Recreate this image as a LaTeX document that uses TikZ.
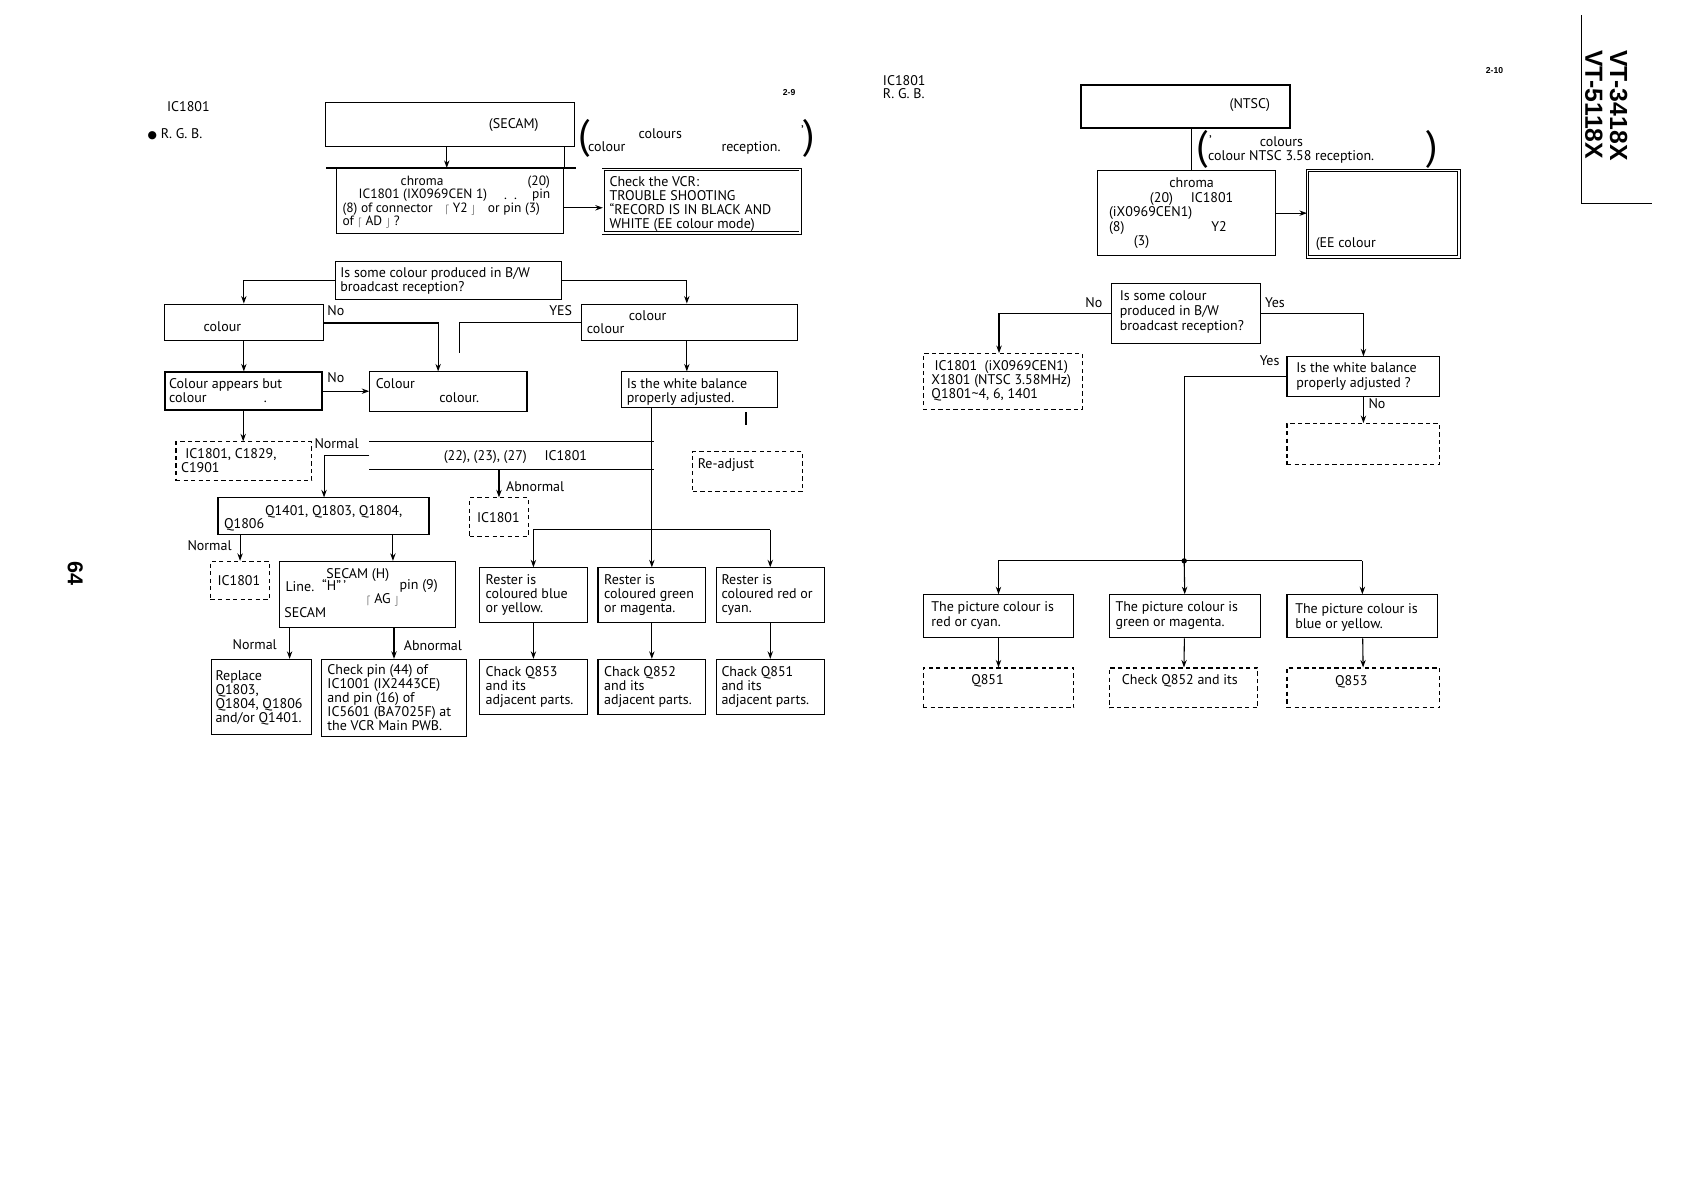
\documentclass[tikz,border=0pt]{standalone}
\usepackage{fontspec}
\setmainfont{PT Sans}
\newfontfamily\headfont{Liberation Sans}
\newfontfamily\symfont{DejaVu Sans}
\usetikzlibrary{arrows.meta}

\begin{document}
\begin{tikzpicture}[x=1pt, y=-1pt,
  box/.style={draw, line width=1pt, inner sep=0pt, anchor=north west},
  dbox/.style={box, dash pattern=on 4pt off 3pt},
  heavybox/.style={box, line width=1.8pt},
  dblbox/.style={box, line width=0.9pt, double distance=1.6pt},
  txt/.style={inner sep=0pt, anchor=mid west, yshift=-2pt, font=\fontsize{13}{13}\selectfont},
  small/.style={txt, font=\fontsize{12.5}{12.5}\selectfont},
  para/.style={inner sep=0pt, anchor=north west, yshift=-1.5pt, align=left, font=\fontsize{13}{13}\selectfont},
  paren/.style={inner sep=0pt, font=\fontsize{38}{38}\selectfont},
  pg/.style={inner sep=0pt, anchor=mid west, font=\headfont\bfseries\fontsize{8}{8}\selectfont},
  arr/.style={line width=1pt, -{Stealth[length=7pt, width=5pt]}},
  line/.style={line width=1pt}
]
\useasboundingbox (0,0) rectangle (1568,1109);

% Page marks
\node[inner sep=0pt, rotate=-90, font=\headfont\bfseries\fontsize{20}{20}\selectfont] (pageno) at (70,533) {64};
\node[inner sep=0pt, rotate=-90, align=left, font=\headfont\bfseries\fontsize{23}{23}\selectfont] (model) at (1492,98) {VT-3418X\\VT-5118X};
\coordinate (mtop) at (1469,14);
\coordinate (mcorner) at (1469,189);
\coordinate (mend) at (1535,189);
\draw[line width=1.3pt] (mtop) -- (mcorner) -- (mend);

%%%%%%%%%%%%%%%% Left page (SECAM)
\node[txt] (lic) at (155,99) {IC1801};
\node[txt] (lrgb) at (137,124) {{\symfont\fontsize{10}{10}\selectfont ●}\ R. G. B.};
\node[pg] (lpage) at (727,86) {2-9};

% Start
\node[box, minimum width=231, minimum height=41] (secam) at (302,95) {};
\node[txt] at (454,115) {(SECAM)};
\node[paren] (lpl) at (543,129) {(};
\node[paren] (lpr) at (752,129) {)};
\node[txt] at (593,124) {colours};
\node[txt] at (744,121) {'};
\node[txt] at (546,136) {colour};
\node[txt] at (670,136) {reception.};

% Chroma check
\node[box, minimum width=211, minimum height=60] (chroma) at (312,156) {};
\draw[line width=2.2pt] ([xshift=-9]chroma.north west) -- ([xshift=11]chroma.north east);
\node[small] at (372,168) {chroma};
\node[small] at (490,168) {(20)};
\node[small] at (333,180) {IC1801 (IX0969CEN 1)};
\node[small] at (468,181) {.\ \ .};
\node[small] at (494,180) {pin};
\node[small] at (318,193) {(8) of connector};
\node[small] at (413,193) {{\small$\lceil$} Y2 {\small$\rfloor$}};
\node[small] at (453,193) {or pin (3)};
\node[small] at (318,205) {of {\small$\lceil$} AD {\small$\rfloor$} ?};
\node[dblbox, minimum width=183, minimum height=59] (vcr) at (560,157) {};
\node[para] at (566,162) {Check the VCR:\\TROUBLE SHOOTING\\``RECORD IS IN BLACK AND\\WHITE (EE colour mode)};

\draw[arr] (415,0 |- secam.south) -- (415,0 |- chroma.north);
\draw[line] (chroma.north east) -- (chroma.north east |- secam.south);
\draw[arr] (chroma.east |- 0,193) -- (vcr.west |- 0,193);

% B/W question
\node[box, minimum width=210, minimum height=36] (bwq) at (311,242) {};
\node[para] at (316,247) {Is some colour produced in B/W\\broadcast reception?};
\node[box, minimum width=148, minimum height=34] (nocol) at (152,282) {};
\node[txt] at (189,303) {colour};
\node[box, minimum width=200, minimum height=34] (yescol) at (540,282) {};
\node[txt] at (584,293) {colour};
\node[txt] at (545,305) {colour};
\node[txt] at (304,289) {No};
\node[txt] at (510,289) {YES};

\draw[arr] (bwq.west) -| (nocol.north);
\draw[arr] (bwq.east) -| (638,0 |- yescol.north);

% Second level
\node[heavybox, minimum width=146, minimum height=35] (appears) at (152,345) {};
\node[para] at (157,350) {Colour appears but\\colour};
\node[txt] at (245,369) {.};
\node[box, minimum width=146, minimum height=37] (faint) at (343,345) {};
\node[txt] at (349,356) {Colour};
\node[txt] at (408,369) {colour.};
\node[box, minimum width=145, minimum height=33] (wbal) at (577,345) {};
\node[para] at (582,350) {Is the white balance\\properly adjusted.};
\node[txt] at (304,351) {No};
\coordinate (ystub) at (427,328);
\coordinate (wbno) at (693,395);

\draw[arr] (nocol.south) -- (nocol.south |- appears.north);
\draw[arr] (nocol.east |- 0,300) -| (407,0 |- faint.north);
\draw[line] (yescol.west) -| (ystub);
\draw[arr] (638,0 |- yescol.south) -- (638,0 |- wbal.north);
\draw[arr] (appears.east) -- (appears.east -| faint.west);
\draw[line width=2pt] (wbno |- 0,383) -- (wbno);

% Checks after colour appears
\node[dbox, minimum width=126, minimum height=36] (icchk) at (163,410) {};
\node[para] at (168,415) {\hspace{4pt}IC1801, C1829,\\C1901};
\node[txt] at (292,412) {Normal};
\node[inner sep=0pt, anchor=north west, minimum width=264, minimum height=26] (volt) at (343,410) {};
\draw[line] (volt.north west) -- (volt.north east);
\draw[line] (volt.south west) -- (volt.south east);
\node[txt] at (412,423) {(22), (23), (27)\quad\ IC1801};
\node[txt] at (470,452) {Abnormal};
\node[dbox, minimum width=102, minimum height=37] (readj) at (643,419) {};
\node[txt] at (648,431) {Re-adjust};

\draw[arr] (appears.south) -- (appears.south |- icchk.north);
\draw[arr] (volt.west) -| (301,462);

% Transistor check
\node[box, minimum width=196, minimum height=34] (qchk) at (202,462) {};
\node[txt] at (246,474) {Q1401, Q1803, Q1804,};
\node[txt] at (208,486) {Q1806};
\node[dbox, minimum width=54, minimum height=36] (icab) at (436,462) {};
\node[txt] at (443,481) {IC1801};
\node[txt] at (174,507) {Normal};
\node[dbox, minimum width=55, minimum height=35] (icnorm) at (195,521) {};
\node[txt] at (202,539) {IC1801};
\node[box, minimum width=164, minimum height=61] (secamh) at (259,521) {};
\node[txt] at (303,533) {SECAM (H)};
\node[txt] at (265,545) {Line.};
\node[txt] at (299,544) {\textquotedblleft H\textquotedblright\,'};
\node[txt] at (371,543) {pin (9)};
\node[txt] at (340,556) {{\small$\lceil$} AG {\small$\rfloor$}};
\node[txt] at (264,569) {SECAM};

\draw[arr] (volt.south -| icab.north) -- (icab.north);
\draw[arr] (qchk.south -| icnorm.north) -- (icnorm.north);
\draw[arr] (365,0 |- qchk.south) -- (365,0 |- secamh.north);

% Final left boxes
\node[txt] at (216,599) {Normal};
\node[txt] at (375,600) {Abnormal};
\node[box, minimum width=93, minimum height=70] (replace) at (196,612) {};
\node[para] at (200,621) {Replace\\Q1803,\\Q1804, Q1806\\and/or Q1401.};
\node[box, minimum width=135, minimum height=72] (pinchk) at (298,612) {};
\node[para] at (304,616) {Check pin (44) of\\IC1001 (IX2443CE)\\and pin (16) of\\IC5601 (BA7025F) at\\the VCR Main PWB.};

\draw[arr] (269,0 |- secamh.south) -- (269,0 |- replace.north);
\draw[arr] (pinchk.north |- secamh.south) -- (pinchk.north);

% Raster colour branch
\node[box, minimum width=100, minimum height=51] (rblue) at (445,527) {};
\node[para] at (451,532) {Rester is\\coloured blue\\or yellow.};
\node[box, minimum width=100, minimum height=51] (rgreen) at (555,527) {};
\node[para] at (561,532) {Rester is\\coloured green\\or magenta.};
\node[box, minimum width=100, minimum height=51] (rred) at (665,527) {};
\node[para] at (670,532) {Rester is\\coloured red or\\cyan.};
\node[box, minimum width=100, minimum height=51] (cblue) at (445,612) {};
\node[para] at (451,617) {Chack Q853\\and its\\adjacent parts.};
\node[box, minimum width=100, minimum height=51] (cgreen) at (555,612) {};
\node[para] at (561,617) {Chack Q852\\and its\\adjacent parts.};
\node[box, minimum width=100, minimum height=51] (cred) at (665,612) {};
\node[para] at (670,617) {Chack Q851\\and its\\adjacent parts.};
\coordinate (lsplit) at (605,492);

\draw[arr] (wbal.south -| rgreen.north) -- (rgreen.north);
\draw[line] (lsplit -| rblue.north) -- (lsplit -| rred.north);
\draw[arr] (lsplit -| rblue.north) -- (rblue.north);
\draw[arr] (lsplit -| rred.north) -- (rred.north);
\draw[arr] (rblue) -- (cblue);
\draw[arr] (rgreen) -- (cgreen);
\draw[arr] (rred) -- (cred);

%%%%%%%%%%%%%%%% Right page (NTSC)
\node[para, align=left] (ric) at (820,68) {IC1801\\R. G. B.};
\node[pg] (rpage) at (1380,66) {2-10};

\node[heavybox, minimum width=194, minimum height=40] (ntsc) at (1003,78) {};
\node[txt] at (1142,96) {(NTSC)};
\node[paren] (rpl) at (1117,139) {(};
\node[paren] (rpr) at (1330,139) {)};
\node[txt] at (1123,131) {'};
\node[txt] at (1170,132) {colours};
\node[txt] at (1122,145) {colour NTSC 3.58 reception.};

\node[box, minimum width=165, minimum height=79] (rchroma) at (1019,158) {};
\node[txt] at (1086,170) {chroma};
\node[txt] at (1068,184) {(20)\quad\ IC1801};
\node[txt] at (1030,197) {(iX0969CEN1)};
\node[txt] at (1030,211) {(8)};
\node[txt] at (1125,211) {Y2};
\node[txt] at (1053,224) {(3)};
\node[dblbox, minimum width=141, minimum height=80] (eebox) at (1214,158) {};
\node[txt] at (1222,225) {(EE colour};

\draw[line] (rchroma.north -| 1107,0) -- (ntsc.south -| 1107,0);
\draw[arr] (rchroma.east) -- (rchroma.east -| eebox.west);

% B/W question
\node[box, minimum width=138, minimum height=56] (rbwq) at (1032,263) {};
\node[para, font=\fontsize{13}{14}\selectfont] at (1040,268) {Is some colour\\produced in B/W\\broadcast reception?};
\node[txt] at (1008,281) {No};
\node[txt] at (1175,281) {Yes};
\node[dbox, minimum width=148, minimum height=52] (rparts) at (857,328) {};
\node[para] at (865,333) {\hspace{3pt}IC1801\ \ (iX0969CEN1)\\X1801 (NTSC 3.58MHz)\\Q1801\textasciitilde4, 6, 1401};
\node[box, minimum width=142, minimum height=37] (rwbal) at (1195,331) {};
\node[para, font=\fontsize{13}{14}\selectfont] at (1204,335) {Is the white balance\\properly adjusted ?};
\node[txt] at (1170,335) {Yes};
\node[txt] at (1271,375) {No};
\node[dbox, minimum width=142, minimum height=38] (radj) at (1195,393) {};

\draw[arr] (rbwq.west) -| (928,0 |- rparts.north);
\draw[arr] (rbwq.east) -| (rwbal.north);
\draw[arr] (rwbal.south) -- (rwbal.south |- radj.north);

% Picture colour branch
\node[box, minimum width=140, minimum height=40] (pred) at (857,552) {};
\node[para, font=\fontsize{13}{14}\selectfont] at (865,557) {The picture colour is\\red or cyan.};
\node[box, minimum width=140, minimum height=40] (pgreen) at (1030,552) {};
\node[para, font=\fontsize{13}{14}\selectfont] at (1036,557) {The picture colour is\\green or magenta.};
\node[box, minimum width=140, minimum height=40] (pblue) at (1195,552) {};
\node[para, font=\fontsize{13}{14}\selectfont] at (1203,559) {The picture colour is\\blue or yellow.};
\node[dbox, minimum width=140, minimum height=37] (qred) at (857,620) {};
\node[txt] at (902,631) {Q851};
\node[dbox, minimum width=138, minimum height=37] (qgreen) at (1030,620) {};
\node[txt] at (1042,631) {Check Q852 and its};
\node[dbox, minimum width=142, minimum height=37] (qblue) at (1195,620) {};
\node[txt] at (1240,632) {Q853};
\coordinate (rsplit) at (1100,521);

\draw[line] (rwbal.west) -| (rsplit);
\draw[line] (rsplit -| pred.north) -- (rsplit -| pblue.north);
\fill (rsplit) circle (2.5);
\draw[arr] (rsplit -| pred.north) -- (pred.north);
\draw[arr] (rsplit) -- (pgreen.north);
\draw[arr] (rsplit -| pblue.north) -- (pblue.north);
\draw[arr] (pred) -- (qred);
\draw[arr] (pgreen) -- (qgreen);
\draw[arr] (pblue) -- (qblue);
\end{tikzpicture}
\end{document}
